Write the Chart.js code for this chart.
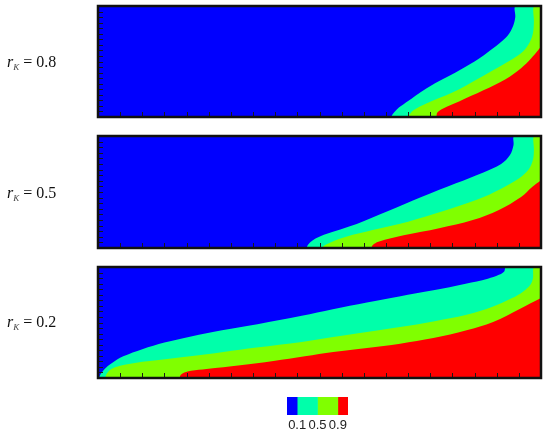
<!DOCTYPE html>
<html><head><meta charset="utf-8">
<script src="https://cdn.jsdelivr.net/npm/chart.js@4.4.1/dist/chart.umd.min.js"></script>
<style>
html,body{margin:0;padding:0;background:#fff;}
#wrap{position:relative;width:550px;height:435px;overflow:hidden;background:#fff;}
canvas{position:absolute;left:0;top:0;}
.lab{position:absolute;left:7px;font-family:'Liberation Serif','Times New Roman',serif;font-size:16px;line-height:16px;color:#111;white-space:nowrap;}
.lab i{font-style:italic;}
.lab sub{font-size:9px;font-style:italic;vertical-align:-3px;line-height:0;color:#444;}
</style></head><body>
<div id="wrap">
<canvas id="p0" width="550" height="435"></canvas>
<canvas id="p1" width="550" height="435"></canvas>
<canvas id="p2" width="550" height="435"></canvas>
<canvas id="cb" width="550" height="435"></canvas>
<div class="lab" id="l0"></div>
<div class="lab" id="l1"></div>
<div class="lab" id="l2"></div>
</div>
<script>
// ---- data ----
const panelValues = ["0.8", "0.5", "0.2"];
const levelLabels = ["0.1", "0.5", "0.9"];
const levelTickPositions = [0, 1, 2];
const colorbarSpans = [[-0.5, 0], [0, 1], [1, 2], [2, 2.5]];
const levelColors = ["#0000FF", "#00FFAA", "#80FF00", "#FF0000"];
const xTickValues = [0.05,0.1,0.15,0.2,0.25,0.3,0.35,0.4,0.45,0.5,0.55,0.6,0.65,0.7,0.75,0.8,0.85,0.9,0.95];
const yTickValues = [0.05,0.1,0.15,0.2,0.25,0.3,0.35,0.4,0.45,0.5,0.55,0.6,0.65,0.7,0.75,0.8,0.85,0.9,0.95];

// contour boundaries [x, y] (x: 0..1 along the panel, y: 0..1 bottom to top)
const rk08_level01 = [[.662,0],[.665,.025],[.675,.07],[.695,.13],[.742,.26],[.78,.345],[.815,.42],[.85,.50],[.877,.575],[.905,.66],[.925,.735],[.937,.82],[.942,.9],[.943,1]];
const rk08_level05 = [[.700,0],[.703,.02],[.712,.06],[.74,.12],[.80,.22],[.86,.35],[.90,.44],[.935,.52],[.958,.585],[.974,.67],[.982,.76],[.984,.86],[.984,1]];
const rk08_level09 = [[.764,0],[.766,.04],[.778,.075],[.815,.14],[.87,.24],[.92,.34],[.955,.44],[.978,.53],[.993,.60],[1,.635]];

const rk05_level01 = [[.471,0],[.474,.03],[.485,.07],[.51,.118],[.584,.215],[.655,.33],[.73,.455],[.808,.578],[.87,.675],[.91,.75],[.93,.83],[.938,.92],[.94,1]];
const rk05_level05 = [[.505,0],[.51,.02],[.525,.05],[.56,.10],[.62,.16],[.70,.235],[.78,.33],[.855,.43],[.91,.53],[.95,.62],[.972,.70],[.982,.79],[.984,.88],[.984,1]];
const rk05_level09 = [[.617,0],[.62,.025],[.633,.055],[.69,.113],[.77,.177],[.846,.25],[.905,.34],[.955,.455],[.98,.545],[1,.605]];

const rk02_level01 = [[.002,0],[.006,.035],[.015,.08],[.03,.13],[.057,.195],[.10,.26],[.15,.32],[.21,.375],[.28,.43],[.36,.485],[.46,.56],[.53,.62],[.607,.68],[.68,.735],[.757,.79],[.83,.85],[.88,.895],[.905,.93],[.917,.96],[.921,1]];
const rk02_level05 = [[.016,0],[.02,.04],[.03,.08],[.05,.11],[.09,.14],[.132,.16],[.208,.195],[.283,.235],[.358,.275],[.46,.325],[.531,.37],[.607,.415],[.682,.46],[.757,.51],[.832,.57],[.892,.645],[.935,.72],[.96,.78],[.976,.84],[.982,.9],[.984,1]];
const rk02_level09 = [[.184,0],[.187,.03],[.195,.05],[.21,.065],[.245,.08],[.321,.114],[.396,.153],[.467,.195],[.531,.234],[.607,.27],[.682,.309],[.757,.36],[.832,.43],[.892,.505],[.953,.624],[1,.72]];

const panels = [
  [rk08_level01, rk08_level05, rk08_level09],
  [rk05_level01, rk05_level05, rk05_level09],
  [rk02_level01, rk02_level05, rk02_level09]
];

// ---- layout ----
const plotLeft = 98, plotRight = 541;
const panelTops = [6, 136, 267];
const panelBottoms = [117, 248, 378];
const labelTops = [54, 185, 314];
const W = 550, H = 435;

// region to the right / below a boundary curve, closed along the panel edges
function closeRegion(curve) {
  const pts = curve.slice();
  const last = pts[pts.length - 1];
  if (last[1] >= 1) { pts.push([1, 1], [1, 1]); }
  else { pts.push(last.slice()); }
  pts.push([1, 0], [1, 0]);
  return pts.map(p => ({x: p[0], y: p[1]}));
}

const panelDeco = {
  id: 'panelDeco',
  beforeDatasetsDraw(chart) {
    const {ctx, chartArea: a} = chart;
    ctx.save();
    ctx.fillStyle = levelColors[0];
    ctx.fillRect(a.left, a.top, a.right - a.left, a.bottom - a.top);
    ctx.restore();
  },
  afterDatasetsDraw(chart) {
    const {ctx, chartArea: a} = chart;
    const x = chart.scales.x, y = chart.scales.y;
    ctx.save();
    ctx.strokeStyle = '#1a1a1a';
    ctx.lineWidth = 1;
    ctx.beginPath();
    xTickValues.forEach(v => {
      const px = Math.round(x.getPixelForValue(v)) + 0.5;
      ctx.moveTo(px, a.bottom); ctx.lineTo(px, a.bottom - 5);
    });
    yTickValues.forEach(v => {
      const py = Math.round(y.getPixelForValue(v)) + 0.5;
      ctx.moveTo(a.left, py); ctx.lineTo(a.left + 5, py);
    });
    ctx.stroke();
    ctx.lineWidth = 2.5;
    ctx.strokeStyle = '#111';
    ctx.strokeRect(a.left, a.top, a.right - a.left, a.bottom - a.top);
    ctx.restore();
  }
};

panels.forEach((curves, p) => {
  new Chart(document.getElementById('p' + p), {
    type: 'line',
    data: {
      datasets: curves.map((c, i) => ({
        data: closeRegion(c),
        fill: 'shape',
        backgroundColor: levelColors[i + 1],
        borderColor: 'rgba(0,0,0,0)',
        borderWidth: 0,
        pointRadius: 0,
        tension: 0.35,
        order: 3 - i
      }))
    },
    options: {
      responsive: false, animation: false, devicePixelRatio: 1, events: [],
      layout: {padding: {left: plotLeft, right: W - plotRight, top: panelTops[p], bottom: H - panelBottoms[p]}},
      plugins: {legend: {display: false}, tooltip: {enabled: false}},
      scales: {
        x: {type: 'linear', display: false, min: 0, max: 1},
        y: {type: 'linear', display: false, min: 0, max: 1}
      }
    },
    plugins: [panelDeco]
  });
  const lab = document.getElementById('l' + p);
  lab.style.top = labelTops[p] + 'px';
  lab.innerHTML = '<i>r</i><sub>K</sub> = ' + panelValues[p];
});

new Chart(document.getElementById('cb'), {
  type: 'bar',
  data: {
    labels: ['level'],
    datasets: colorbarSpans.map((s, i) => ({
      data: [s], backgroundColor: levelColors[i], borderWidth: 0,
      barPercentage: 1, categoryPercentage: 1, grouped: false
    }))
  },
  options: {
    indexAxis: 'y', responsive: false, animation: false, devicePixelRatio: 1, events: [],
    layout: {padding: {left: 287, right: 202, top: 397, bottom: 0}},
    plugins: {legend: {display: false}, tooltip: {enabled: false}},
    scales: {
      x: {
        type: 'linear', min: -0.5, max: 2.5,
        grid: {display: false, drawTicks: false}, border: {display: false},
        afterBuildTicks: s => { s.ticks = levelTickPositions.map(v => ({value: v})); },
        afterFit: s => { s.height = 20; },
        ticks: {padding: 3, color: '#222', autoSkip: false, maxRotation: 0,
          font: {family: "'Liberation Sans', Arial, sans-serif", size: 13},
          callback: (v, i) => levelLabels[i]}
      },
      y: {display: false}
    }
  }
});
</script>
</body></html>
